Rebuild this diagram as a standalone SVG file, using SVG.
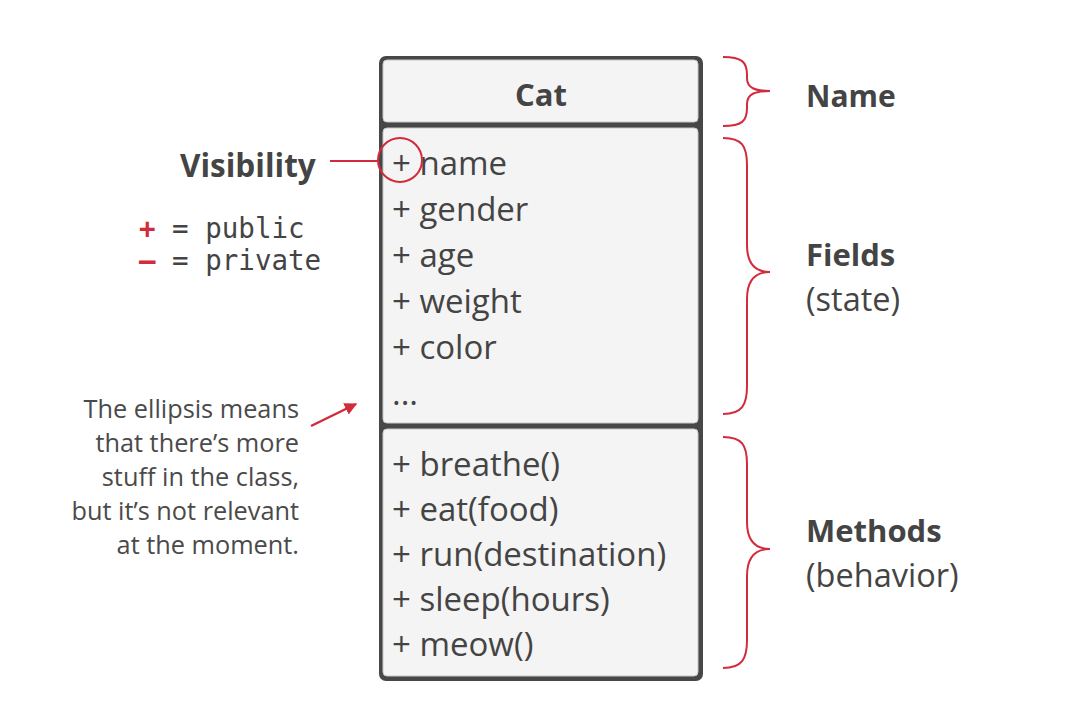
<svg xmlns="http://www.w3.org/2000/svg" width="1068" height="712" viewBox="0 0 1068 712">
<style>
  .t{font-family:"Open Sans","Noto Sans","Liberation Sans",sans-serif;fill:#444444}
  .m{font-size:33px}
  .b{font-weight:bold}
  .lbl{font-size:31px}
  .sub{font-size:32.5px}
  .note{font-size:25.3px;text-anchor:end;fill:#4a4a4a}
  .mono{font-family:"DejaVu Sans Mono","Liberation Mono",monospace;font-size:27.5px;fill:#444444}
  .red{fill:#d22b3c;font-weight:bold}
  .brace{fill:none;stroke:#d22b3c;stroke-width:2}
  .comp{fill:#f4f4f4;stroke:#c8c8c8;stroke-width:1}
</style>
<defs>
  <marker id="ah" viewBox="0 0 10 10" refX="9" refY="5" markerWidth="5" markerHeight="5" orient="auto" markerUnits="strokeWidth">
    <path d="M0,0 L10,5 L0,10 z" fill="#d22b3c"/>
  </marker>
</defs>
<rect width="1068" height="712" fill="#ffffff"/>

<g id="cat-class">
  <rect x="379" y="56" width="324" height="625" rx="7" fill="#474747"/>
  <rect class="comp" x="383" y="60" width="315" height="62" rx="4"/>
  <rect class="comp" x="383" y="128" width="315" height="295" rx="4"/>
  <rect class="comp" x="383" y="429" width="315" height="247" rx="4"/>
  <text class="t b" x="541" y="106" font-size="31" text-anchor="middle">Cat</text>
  <g class="t m">
    <text x="392" y="175">+ name</text>
    <text x="392" y="221">+ gender</text>
    <text x="392" y="267">+ age</text>
    <text x="392" y="313">+ weight</text>
    <text x="392" y="359">+ color</text>
    <text x="392" y="405">...</text>
    <text x="392" y="476">+ breathe()</text>
    <text x="392" y="521">+ eat(food)</text>
    <text x="392" y="566">+ run(destination)</text>
    <text x="392" y="611">+ sleep(hours)</text>
    <text x="392" y="656">+ meow()</text>
  </g>
</g>

<g id="visibility">
  <text class="t b" x="180" y="177" font-size="31.5">Visibility</text>
  <text class="mono" x="139" y="238"><tspan class="red">+</tspan> = public</text>
  <text class="mono" x="139" y="270"><tspan class="red">–</tspan> = private</text>
</g>

<g id="ellipsis-note">
  <text class="t note" x="299" y="418">The ellipsis means</text>
  <text class="t note" x="299" y="452">that there’s more</text>
  <text class="t note" x="299" y="486">stuff in the class,</text>
  <text class="t note" x="299" y="520">but it’s not relevant</text>
  <text class="t note" x="299" y="554">at the moment.</text>
</g>

<g id="label-name"><text class="t b" x="806" y="107" font-size="30">Name</text></g>
<g id="label-fields">
  <text class="t b lbl" x="806" y="266">Fields</text>
  <text class="t sub" x="806" y="311">(state)</text>
</g>
<g id="label-methods">
  <text class="t b lbl" x="806" y="542">Methods</text>
  <text class="t sub" x="806" y="587">(behavior)</text>
</g>

<g id="connectors">
  <circle cx="400" cy="160" r="22" fill="none" stroke="#d22b3c" stroke-width="2"/>
  <line x1="330" y1="161" x2="378" y2="161" stroke="#d22b3c" stroke-width="2"/>
  <line x1="311" y1="426" x2="356" y2="404" stroke="#d22b3c" stroke-width="2.5" marker-end="url(#ah)"/>
  <path class="brace" d="M723,57 C742,57 747,62 747,75 L747,78 C747,88 755,91 770,91 C755,91 747,94 747,104 L747,108 C747,121 742,126 723,126"/>
  <path class="brace" d="M723,138 C742,138 747,146 747,165 L747,245 C747,263 755,272 770,272 C755,272 747,281 747,299 L747,386 C747,405 742,414 723,414"/>
  <path class="brace" d="M723,437 C742,437 747,445 747,464 L747,522 C747,540 755,549 770,549 C755,549 747,558 747,576 L747,640 C747,659 742,668 723,668"/>
</g>
</svg>
